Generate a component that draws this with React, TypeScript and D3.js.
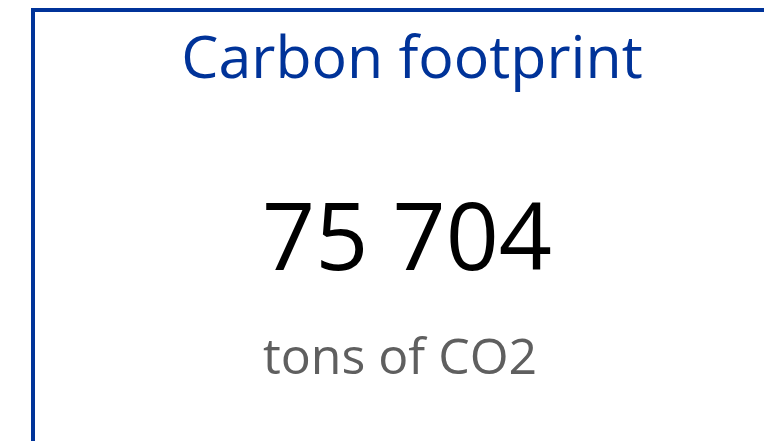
import React from "react";
import * as d3 from "d3";

// KPI card content
const titles = ["Carbon footprint"];
const values = [75704];
const units = ["tons of CO2"];

const W = 764;
const H = 441;

const fmt = (v: number) => d3.format(",")(v).replace(/,/g, " ");

export default function App() {
  const blue = "#003399";
  const cx = 407;

  return (
    <svg
      width={W}
      height={H}
      style={{ position: "absolute", left: 0, top: 0, background: "#fff" }}
      fontFamily="'Open Sans', sans-serif"
    >
      {/* frame: top and left edge */}
      <path d={`M33,${H} V10 H${W}`} fill="none" stroke={blue} strokeWidth={4} />

      <text x={cx + 5} y={78} textAnchor="middle" fontSize={59} fill={blue}>
        {titles[0]}
      </text>
      <text x={cx} y={270} textAnchor="middle" fontSize={93} fill="#000">
        {fmt(values[0])}
      </text>
      <text x={cx - 7} y={374} textAnchor="middle" fontSize={50} fill="#5f5f5f">
        {units[0]}
      </text>
    </svg>
  );
}
